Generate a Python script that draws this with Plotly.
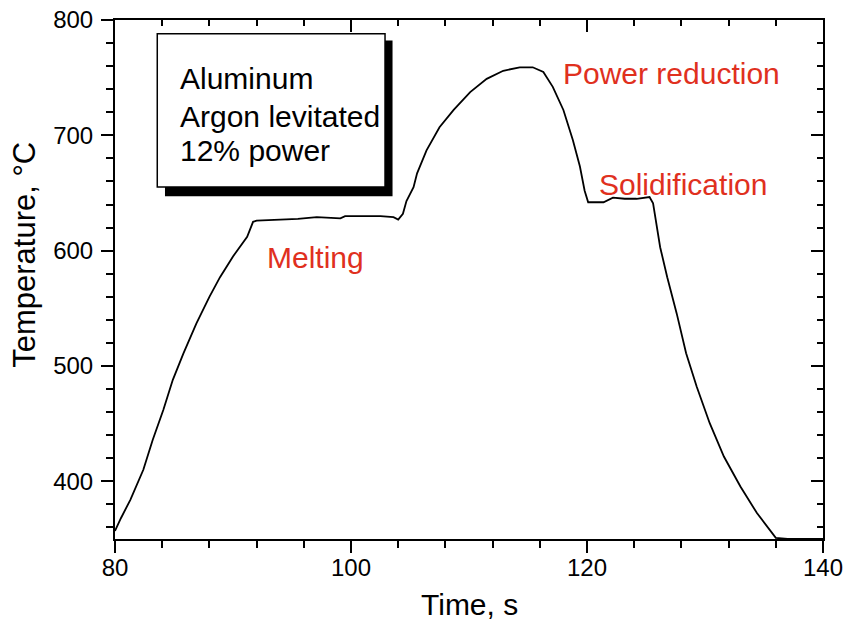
import plotly.graph_objects as go

# Data
time_s = [80.0, 80.5, 81.3, 82.4, 83.2, 84.1, 84.9, 85.8, 86.9, 88.0, 88.9, 90.0, 91.2, 91.7,
          92.0, 93.0, 94.3, 95.5, 97.1, 98.0, 99.1, 99.5, 100.5, 101.3, 102.5, 103.6, 104.0,
          104.4, 104.7, 105.3, 105.6, 106.4, 107.5, 108.7, 110.1, 111.5, 112.9, 114.3, 115.4,
          116.3, 117.1, 118.0, 118.8, 119.4, 119.8, 120.1, 121.4, 122.2, 123.2, 124.2, 125.3,
          125.6, 126.2, 126.8, 127.6, 128.4, 129.3, 130.4, 131.6, 133.0, 134.4, 136.0, 137.0, 140.0]
temp_c = [357, 368, 384, 410, 436, 462, 488, 511, 537, 560, 577, 595, 612, 625,
          626, 626.5, 627, 627.5, 629, 628.5, 628, 630, 630, 630.5, 630, 629, 627,
          632, 643, 655, 667, 687, 707, 722, 737.5, 749, 756, 759, 759,
          755, 742, 722, 696, 673, 652, 642, 642, 646, 645, 645, 646.5,
          641, 603, 577, 545.6, 511, 482, 450.4, 421.5, 395.5, 372.5, 351, 350, 350]

x_range = [80, 140]
y_range = [350, 800]
x_ticks = [80, 100, 120, 140]
y_ticks = [400, 500, 600, 700, 800]

box_lines = ["Aluminum", "Argon levitated", "12% power"]
labels = [("Power reduction", 127.2, 753.5), ("Solidification", 128.1, 657.5), ("Melting", 97.0, 594)]

FONT = "Liberation Sans, Arial, Helvetica, sans-serif"
RED = "#E0301E"

fig = go.Figure()
fig.add_trace(go.Scatter(x=time_s, y=temp_c, mode="lines",
                         line=dict(color="black", width=1.8), showlegend=False, hoverinfo="skip"))
fig.add_trace(go.Scatter(x=time_s, y=temp_c, mode="lines", opacity=0, xaxis="x2", yaxis="y2",
                         showlegend=False, hoverinfo="skip"))
fig.add_trace(go.Scatter(x=time_s, y=temp_c, mode="lines", opacity=0, xaxis="x3", yaxis="y",
                         showlegend=False, hoverinfo="skip"))

common = dict(showgrid=False, zeroline=False, showline=True, linecolor="black", linewidth=2,
              tickcolor="black", tickwidth=1.8, ticklen=12, automargin=False)

fig.update_layout(
    width=848, height=623,
    margin=dict(l=115, r=25, t=19.5, b=83.5),
    paper_bgcolor="white", plot_bgcolor="white",
    font=dict(family=FONT, color="black", size=24),
    xaxis=dict(range=x_range, tickvals=x_ticks, ticks="outside", showticklabels=False,
               minor=dict(dtick=4, tick0=80, ticks="outside", ticklen=7, tickcolor="black", tickwidth=1.5),
               **common),
    xaxis3=dict(range=x_range, tickvals=x_ticks, ticks="outside", ticklen=7, ticklabelstandoff=0,
                tickcolor="rgba(0,0,0,0)", overlaying="x", side="bottom", anchor="y",
                showline=False, showgrid=False, zeroline=False, automargin=False,
                tickfont=dict(size=24)),
    yaxis=dict(range=y_range, tickvals=y_ticks, ticks="outside", ticklabelstandoff=3,
               minor=dict(dtick=20, tick0=400, ticks="outside", ticklen=7, tickcolor="black", tickwidth=1.5),
               tickfont=dict(size=24), **common),
    xaxis2=dict(range=x_range, tickvals=x_ticks, ticks="inside", overlaying="x", side="top",
                anchor="y", showticklabels=False,
                minor=dict(dtick=4, tick0=80, ticks="inside", ticklen=6, tickcolor="black", tickwidth=1.5),
                **common),
    yaxis2=dict(range=y_range, tickvals=y_ticks, ticks="inside", overlaying="y", side="right",
                anchor="x", showticklabels=False,
                minor=dict(dtick=20, tick0=400, ticks="inside", ticklen=6, tickcolor="black", tickwidth=1.5),
                **common),
)

# Info box with drop shadow
fig.add_shape(type="rect", xref="paper", yref="paper", x0=0.0706, x1=0.392, y0=0.6606, y1=0.9606,
              fillcolor="black", line=dict(width=0), layer="above")
fig.add_shape(type="rect", xref="paper", yref="paper", x0=0.0597, x1=0.3814, y0=0.678, y1=0.9735,
              fillcolor="white", line=dict(color="black", width=1.5), layer="above")
for txt, yp in zip(box_lines, [0.8875, 0.8144, 0.749]):
    fig.add_annotation(text=txt, xref="paper", yref="paper", x=0.089, y=yp, xanchor="left",
                       yanchor="middle", showarrow=False, font=dict(size=30, color="black", family=FONT))

for txt, xv, yv in labels:
    fig.add_annotation(text=txt, x=xv, y=yv, xanchor="center", yanchor="middle", showarrow=False,
                       font=dict(size=30, color=RED, family=FONT))

# Axis titles
fig.add_annotation(text="Time, s", xref="paper", yref="paper", x=0.5, y=-0.126, xanchor="center",
                   yanchor="middle", showarrow=False, font=dict(size=30, family=FONT))
fig.add_annotation(text="Temperature, °C", xref="paper", yref="paper", x=-0.129, y=0.547,
                   xanchor="center", yanchor="middle", textangle=-90, showarrow=False,
                   font=dict(size=31, family=FONT))

fig.write_html("out.html")
